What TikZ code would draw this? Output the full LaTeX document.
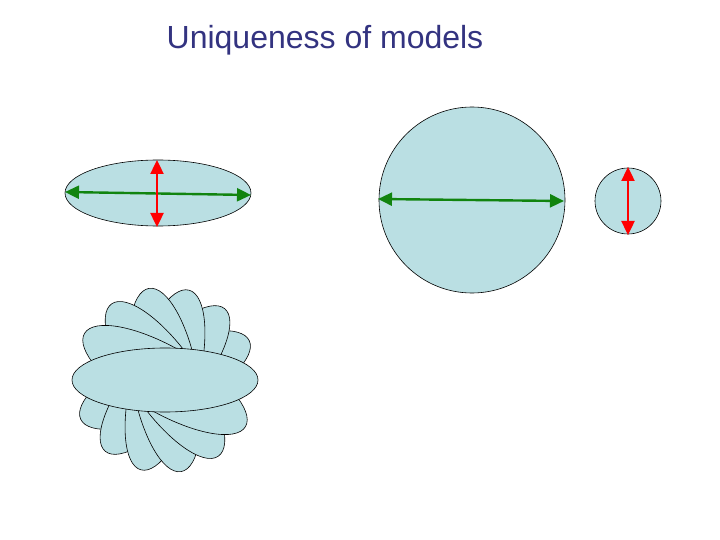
\documentclass[tikz,border=0pt]{standalone}
\usepackage{fontspec}
\setmainfont{Liberation Sans}
\usetikzlibrary{arrows.meta}
\definecolor{fillc}{HTML}{BADFE3}
\definecolor{titlec}{HTML}{333380}
\definecolor{grn}{HTML}{11840F}
\begin{document}
\begin{tikzpicture}[x=1pt,y=-1pt,
  blob/.style={draw=black,fill=fillc,line width=0.6pt},
  garrow/.style={draw=grn,line width=2.4pt,{Triangle[length=14pt,width=13pt]}-{Triangle[length=14pt,width=13pt]}},
  rarrow/.style={draw=red,line width=2.4pt,{Triangle[length=14pt,width=13pt]}-{Triangle[length=14pt,width=13pt]}}]
\useasboundingbox (0,0) rectangle (720,540);
\node[text=titlec,font=\fontsize{32}{36}\selectfont] (title) at (325,40) {Uniqueness of models};
% ellipse
\draw[blob] (158,193) ellipse [x radius=93, y radius=33];
\coordinate (e1) at (65,192); \coordinate (e2) at (251,195);
\draw[garrow] (e1) -- (e2);
\coordinate (e3) at (157,160); \coordinate (e4) at (157,227);
\draw[rarrow] (e3) -- (e4);
% big circle
\draw[blob] (472,200) circle [radius=93];
\coordinate (c1) at (378,199); \coordinate (c2) at (564,201);
\draw[garrow] (c1) -- (c2);
% small circle
\draw[blob] (628,201) circle [radius=33];
\coordinate (s1) at (628,167); \coordinate (s2) at (628,235);
\draw[rarrow] (s1) -- (s2);
% rosette
\foreach \a in {25,50,...,150}
  \draw[blob,rotate around={\a:(165,380)}] (165,380) ellipse [x radius=93, y radius=33];
\draw[blob] (165,380) ellipse [x radius=93, y radius=32];
\end{tikzpicture}
\end{document}
